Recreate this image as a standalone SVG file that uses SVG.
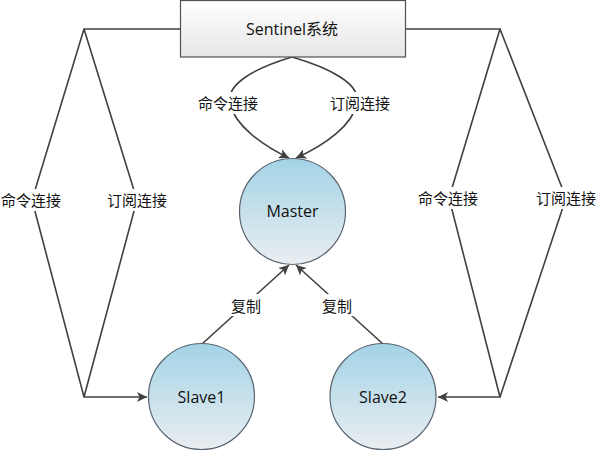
<svg xmlns="http://www.w3.org/2000/svg" width="600" height="453" viewBox="0 0 600 453">
<style>
.ln{fill:none;stroke:#404040;stroke-width:1.6}
.t{font-family:"Segoe UI","Open Sans","Noto Sans CJK SC",sans-serif;font-size:16px;fill:#111;text-anchor:middle;dominant-baseline:central}
.lb{font-family:"Noto Sans CJK SC","Microsoft YaHei",sans-serif;font-size:15px;fill:#111;text-anchor:middle;dominant-baseline:central}
.bg{fill:#fff}
.node{fill:url(#cg);stroke:#5a6470;stroke-width:1.2}
</style>
<defs>
<linearGradient id="cg" x1="0" y1="0" x2="0" y2="1">
<stop offset="0" stop-color="#a3d3e6"/>
<stop offset="1" stop-color="#eaeef1"/>
</linearGradient>
<linearGradient id="bxg" x1="0" y1="0" x2="0" y2="1">
<stop offset="0" stop-color="#ffffff"/>
<stop offset="1" stop-color="#e6e6e6"/>
</linearGradient>
<marker id="ah" viewBox="0 0 10 10" refX="10" refY="5" markerWidth="11" markerHeight="10" markerUnits="userSpaceOnUse" orient="auto">
<path d="M0,0 L10,5 L0,10 L2.5,5 Z" fill="#404040"/>
</marker>
</defs>
<g id="connectors">
<path class="ln" d="M180,29 H84 L32,200 L84,397 H147" marker-end="url(#ah)"/>
<path class="ln" d="M84,29 L137,200 L84,397"/>
<path class="ln" d="M405,29 H500 L449,198 L500,397 H438" marker-end="url(#ah)"/>
<path class="ln" d="M500,29 L566,198 L500,397"/>
<path class="ln" d="M292,57 C255,68 226,84 230,103 C234,125 262,145 289,158" marker-end="url(#ah)"/>
<path class="ln" d="M292,57 C330,68 361,84 357,103 C353,125 325,145 296,158" marker-end="url(#ah)"/>
<path class="ln" d="M202,344 L289,265" marker-end="url(#ah)"/>
<path class="ln" d="M383,344 L296,265" marker-end="url(#ah)"/>
<rect class="bg" x="0" y="189" width="64" height="22"/>
<text class="lb" x="31" y="199">命令连接</text>
<rect class="bg" x="104" y="189" width="66" height="22"/>
<text class="lb" x="137" y="199">订阅连接</text>
<rect class="bg" x="415" y="187" width="66" height="22"/>
<text class="lb" x="448" y="197">命令连接</text>
<rect class="bg" x="533" y="187" width="66" height="22"/>
<text class="lb" x="566" y="197">订阅连接</text>
<rect class="bg" x="195" y="92" width="66" height="22"/>
<text class="lb" x="228" y="102">命令连接</text>
<rect class="bg" x="327" y="92" width="66" height="22"/>
<text class="lb" x="360" y="102">订阅连接</text>
<rect class="bg" x="228" y="294" width="36" height="22"/>
<text class="lb" x="246" y="305">复制</text>
<rect class="bg" x="319" y="294" width="36" height="22"/>
<text class="lb" x="337" y="305">复制</text>
</g>
<g id="sentinel">
<rect x="180.5" y="0.5" width="225" height="56.5" fill="url(#bxg)" stroke="#505050" stroke-width="1.2"/>
<text class="t" x="292" y="29">Sentinel系统</text>
</g>
<g id="master">
<circle class="node" cx="292.5" cy="211.5" r="53"/>
<text class="t" x="292.5" y="211">Master</text>
</g>
<g id="slave1">
<circle class="node" cx="201.5" cy="396.5" r="53"/>
<text class="t" x="201.5" y="397">Slave1</text>
</g>
<g id="slave2">
<circle class="node" cx="383" cy="396.5" r="53"/>
<text class="t" x="383" y="397">Slave2</text>
</g>
</svg>
